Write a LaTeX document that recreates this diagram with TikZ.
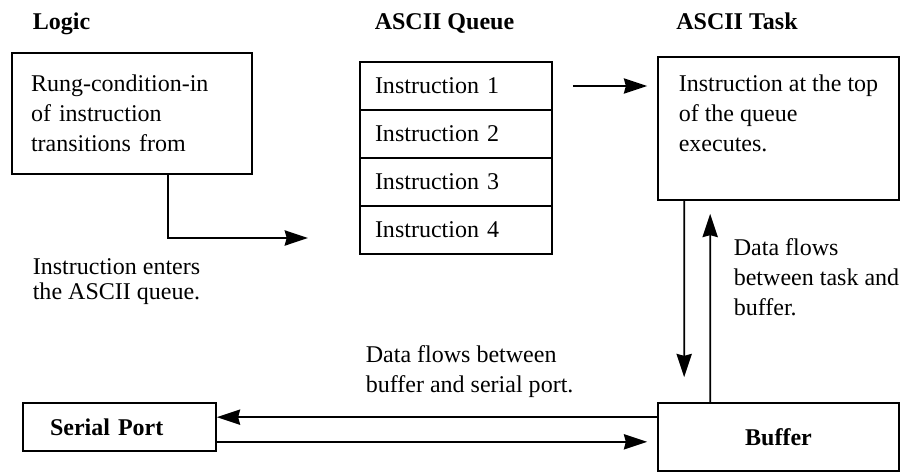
\documentclass[tikz,border=0pt]{standalone}
\usepackage{fontspec}
\setmainfont{Liberation Serif}
\usetikzlibrary{arrows.meta, positioning, calc}
\tikzset{
  every picture/.style={font=\fontsize{20.5}{25.6}\selectfont, line width=1.4pt},
  box/.style={draw, rectangle, align=left, inner xsep=0.57cm, inner ysep=0pt},
  row/.style={draw, rectangle, align=left, text width=4.86cm, inner xsep=0.45cm, inner ysep=0pt, minimum height=1.44cm},
  arrow/.style={-{Stealth[length=7mm, width=4.6mm, inset=0.6mm]}, line width=1.4pt},
  title/.style={font=\fontsize{20.5}{25.6}\selectfont\bfseries},
  note/.style={align=left, inner sep=0pt},
}

\begin{document}
\begin{tikzpicture}
  \useasboundingbox (0,0) rectangle (27.12,14.16);
  % column headings
  \node[title, inner sep=0pt, anchor=base west] (tlogic) at (0.96,13.26) {Logic};
  \node[title, inner sep=0pt, anchor=base] (tqueue) at (13.335,13.26) {ASCII Queue};
  \node[title, inner sep=0pt, anchor=base] (ttask) at (22.11,13.26) {ASCII Task};
  % boxes
  \node[box, text width=6.06cm, minimum height=3.63cm] (logic) at (3.96,10.755) {Rung-condition-in\\of instruction\\transitions from};
  \foreach \j in {1,...,4}
    \node[row] (q\j) at (13.68,13.02-1.44*\j) {Instruction \j};
  \node[box, minimum width=7.23cm, minimum height=4.29cm] (task) at (23.355,10.305) {Instruction at the top\\of the queue\\executes.\\~};
  \node[box, title, text width=4.17cm, inner xsep=0.81cm, minimum height=1.44cm] (serial) at (3.585,1.35) {Serial Port};
  \node[box, title, align=center, text width=6.09cm, minimum height=2.04cm] (buffer) at (23.355,1.05) {Buffer};
  % notes
  \node[note, anchor=north west, font=\fontsize{20.5}{21.3}\selectfont] (enters) at (0.96,6.42) {Instruction enters\\the ASCII queue.};
  \node[note, anchor=north west] (taskbuf) at (21.99,7.02) {Data flows\\between task and\\buffer.};
  \node[note, anchor=north west] (bufser) at (10.95,3.81) {Data flows between\\buffer and serial port.};
  % connectors
  \coordinate (qin) at (9.24,7.02);
  \coordinate (spin) at ([yshift=-0.45cm]serial.north east);
  \coordinate (spout) at ([yshift=0.3cm]serial.south east);
  \draw[arrow] ([xshift=1.08cm]logic.south) |- (qin);
  \draw[arrow, shorten <=0.6cm, shorten >=0.3cm] (q1.east) -- (q1.east -| task.west);
  \draw[arrow, shorten >=0.75cm] ([xshift=0.81cm]task.south west) -- ([xshift=0.81cm]buffer.north west);
  \draw[arrow, shorten >=0.39cm] ([xshift=1.59cm]buffer.north west) -- ([xshift=1.59cm]task.south west);
  \draw[arrow] (buffer.west |- spin) -- (spin);
  \draw[arrow, shorten >=0.3cm] (spout) -- (spout -| buffer.west);
\end{tikzpicture}
\end{document}
